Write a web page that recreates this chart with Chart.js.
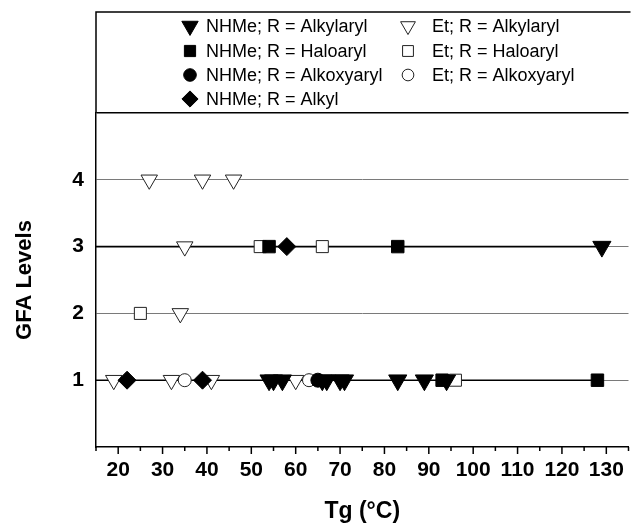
<!DOCTYPE html>
<html>
<head>
<meta charset="utf-8">
<title>GFA levels vs Tg</title>
<script src="https://cdn.jsdelivr.net/npm/chart.js@4.4.1/dist/chart.umd.min.js"></script>
<style>
  html, body { margin: 0; padding: 0; background: #fff; overflow: hidden; }
  #chart { display: block; }
</style>
</head>
<body>
<canvas id="chart" width="640" height="527"></canvas>
<script>
// ===== Data: Tg (°C) and GFA level of each compound =====
const seriesNames = [
  'NHMe; R = Alkylaryl',
  'NHMe; R = Haloaryl',
  'NHMe; R = Alkoxyaryl',
  'NHMe; R = Alkyl',
  'Et; R = Alkylaryl',
  'Et; R = Haloaryl',
  'Et; R = Alkoxyaryl'
];

const nhmeAlkylarylTg  = [54, 55, 57, 66, 67, 70, 71, 83, 89, 94, 129];
const nhmeAlkylarylGfa = [1, 1, 1, 1, 1, 1, 1, 1, 1, 1, 3];

const nhmeHaloarylTg  = [93, 128, 54, 83];
const nhmeHaloarylGfa = [1, 1, 3, 3];

const nhmeAlkoxyarylTg  = [65];
const nhmeAlkoxyarylGfa = [1];

const nhmeAlkylTg  = [22, 39, 58];
const nhmeAlkylGfa = [1, 1, 3];

const etAlkylarylTg  = [19, 32, 41, 60, 34, 35, 27, 39, 46];
const etAlkylarylGfa = [1, 1, 1, 1, 2, 3, 4, 4, 4];

const etHaloarylTg  = [96, 25, 52, 66];
const etHaloarylGfa = [1, 2, 3, 3];

const etAlkoxyarylTg  = [35, 63];
const etAlkoxyarylGfa = [1, 1];

const xTickLabels = [20, 30, 40, 50, 60, 70, 80, 90, 100, 110, 120, 130];
const gfaTicks = [1, 2, 3, 4];

// ===== Helpers =====
function points(tg, gfa) {
  return tg.map((x, i) => ({ x: x, y: gfa[i] }));
}

function marker(label, data, style, rotation, radius, filled) {
  return {
    label: label,
    data: data,
    pointStyle: style,
    pointRotation: rotation,
    pointRadius: radius,
    pointHoverRadius: radius,
    pointBackgroundColor: filled ? '#000' : '#fff',
    pointBorderColor: filled ? '#000' : '#222',
    pointBorderWidth: 1,
    showLine: false
  };
}

Chart.defaults.font.family = "'Liberation Sans', Arial, Helvetica, sans-serif";
Chart.defaults.color = '#000';

// ===== Plugins =====
// frame above the plot that holds the legend
const framePlugin = {
  id: 'frame',
  afterDraw(chart) {
    const { ctx, chartArea } = chart;
    ctx.save();
    ctx.strokeStyle = '#000';
    ctx.lineWidth = 1.5;
    ctx.beginPath();
    ctx.moveTo(chartArea.left, chartArea.top);
    ctx.lineTo(chartArea.left, 12);
    ctx.lineTo(chartArea.right + 2, 12);
    ctx.stroke();
    ctx.restore();
  }
};

// two-column legend inside the top frame
const legendPlugin = {
  id: 'boxLegend',
  afterDraw(chart) {
    const { ctx } = chart;
    const rowY = [26, 51, 75, 99];
    const markerX = [190, 408];
    const textX = [206, 432];
    ctx.save();
    ctx.font = "18px 'Liberation Sans', Arial, sans-serif";
    ctx.textBaseline = 'middle';
    ctx.textAlign = 'left';
    chart.data.datasets.forEach((ds, i) => {
      const col = i < 4 ? 0 : 1;
      const row = i < 4 ? i : i - 4;
      const y = rowY[row];
      ctx.fillStyle = ds.pointBackgroundColor;
      ctx.strokeStyle = ds.pointBorderColor;
      ctx.lineWidth = 1;
      Chart.helpers.drawPoint(ctx, {
        pointStyle: ds.pointStyle,
        rotation: ds.pointRotation,
        radius: ds.pointRadius * 0.9,
        borderWidth: 1
      }, markerX[col], y);
      ctx.fillStyle = '#000';
      ctx.fillText(ds.label, textX[col], y + 1);
    });
    ctx.restore();
  }
};

// dark level lines running out to the last NHMe compound on each level
const levelLinePlugin = {
  id: 'levelLines',
  beforeDatasetsDraw(chart) {
    const { ctx, chartArea, scales } = chart;
    ctx.save();
    ctx.strokeStyle = '#000';
    ctx.lineWidth = 1.6;
    gfaTicks.forEach(level => {
      let maxTg = null;
      chart.data.datasets.slice(0, 4).forEach(ds => {
        ds.data.forEach(p => {
          if (p.y === level && (maxTg === null || p.x > maxTg)) maxTg = p.x;
        });
      });
      if (maxTg === null) return;
      const y = scales.y.getPixelForValue(level);
      ctx.beginPath();
      ctx.moveTo(chartArea.left, y);
      ctx.lineTo(scales.x.getPixelForValue(maxTg), y);
      ctx.stroke();
    });
    ctx.restore();
  }
};

// outward tick marks on the Tg axis, long at labelled values
const xTickMarks = {
  id: 'xTickMarks',
  afterDraw(chart) {
    const { ctx, scales, chartArea } = chart;
    const x = scales.x;
    ctx.save();
    ctx.strokeStyle = '#000';
    ctx.lineWidth = 1.5;
    x.ticks.forEach(t => {
      const px = x.getPixelForValue(t.value);
      const len = xTickLabels.includes(t.value) ? 7 : 4;
      ctx.beginPath();
      ctx.moveTo(px, chartArea.bottom);
      ctx.lineTo(px, chartArea.bottom + len);
      ctx.stroke();
    });
    ctx.restore();
  }
};

// ===== Chart =====
const chartCanvas = document.getElementById('chart');

new Chart(chartCanvas, {
  type: 'scatter',
  data: {
    datasets: [
      marker(seriesNames[0], points(nhmeAlkylarylTg, nhmeAlkylarylGfa), 'triangle', 180, 10.5, true),
      marker(seriesNames[1], points(nhmeHaloarylTg, nhmeHaloarylGfa), 'rect', 0, 8.8, true),
      marker(seriesNames[2], points(nhmeAlkoxyarylTg, nhmeAlkoxyarylGfa), 'circle', 0, 7, true),
      marker(seriesNames[3], points(nhmeAlkylTg, nhmeAlkylGfa), 'rectRot', 0, 9, true),
      marker(seriesNames[4], points(etAlkylarylTg, etAlkylarylGfa), 'triangle', 180, 9.5, false),
      marker(seriesNames[5], points(etHaloarylTg, etHaloarylGfa), 'rect', 0, 8.5, false),
      marker(seriesNames[6], points(etAlkoxyarylTg, etAlkoxyarylGfa), 'circle', 0, 6.5, false)
    ]
  },
  options: {
    responsive: false,
    animation: false,
    layout: { padding: { top: 113, right: 4, left: 0, bottom: 0 } },
    plugins: {
      legend: { display: false },
      tooltip: { enabled: false }
    },
    scales: {
      x: {
        type: 'linear',
        min: 15,
        max: 135,
        afterFit(scale) { scale.height = 80; },
        border: { display: true, color: '#000', width: 1.5 },
        grid: { display: false, drawTicks: false },
        ticks: {
          stepSize: 5,
          autoSkip: false,
          maxRotation: 0,
          padding: 11,
          font: { size: 21, weight: 'bold' },
          callback: v => xTickLabels.includes(v) ? String(v) : ''
        },
        title: {
          display: true,
          text: 'Tg (°C)',
          font: { size: 23, weight: 'bold' },
          padding: { top: 0, bottom: 2 }
        }
      },
      y: {
        type: 'linear',
        min: 0,
        max: 5,
        afterFit(scale) { scale.width = 96; },
        border: { display: true, color: '#000', width: 1.5 },
        grid: {
          drawTicks: false,
          color: ctx => {
            const v = ctx.tick.value;
            if (v === 5) return '#000';
            if (v === 0) return 'rgba(0,0,0,0)';
            return '#7a7a7a';
          },
          lineWidth: ctx => ctx.tick.value === 5 ? 1.5 : 1
        },
        ticks: {
          stepSize: 1,
          padding: 12,
          font: { size: 21, weight: 'bold' },
          callback: v => gfaTicks.includes(v) ? String(v) : ''
        },
        title: {
          display: true,
          text: 'GFA Levels',
          font: { size: 22, weight: 'bold' },
          padding: { top: 12, bottom: 0 }
        }
      }
    }
  },
  plugins: [framePlugin, levelLinePlugin, xTickMarks, legendPlugin]
});
</script>
</body>
</html>
